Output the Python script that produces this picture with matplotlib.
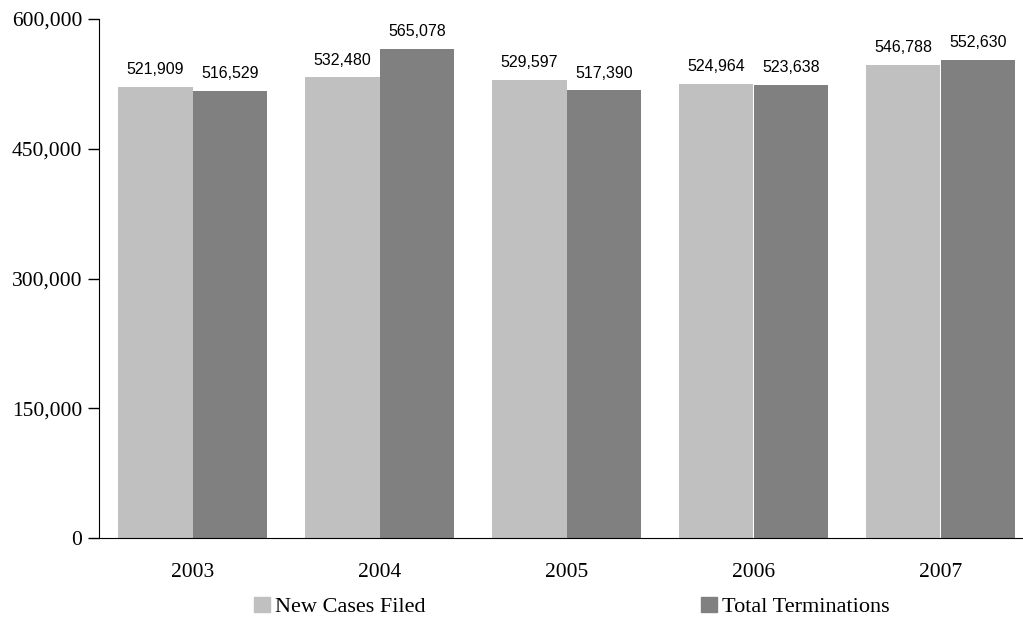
import matplotlib
matplotlib.use('Agg')
from matplotlib import pyplot as plt
from matplotlib.patches import Patch
from matplotlib.ticker import FuncFormatter
import numpy as np

years = ['2003', '2004', '2005', '2006', '2007']
new_cases = [521909, 532480, 529597, 524964, 546788]
terminations = [516529, 565078, 517390, 523638, 552630]
series_names = ['New Cases Filed', 'Total Terminations']
colors = ['#c0c0c0', '#808080']

fig = plt.figure(figsize=(10.23, 6.22), dpi=100)
ax = fig.add_axes([99 / 1023, 84 / 622, 935 / 1023, 519 / 622])

x = np.arange(len(years))
w = 0.4
b1 = ax.bar(x - w / 2, new_cases, w, color=colors[0], linewidth=0)
b2 = ax.bar(x + w / 2, terminations, w, color=colors[1], linewidth=0)

for bars in (b1, b2):
    for r in bars:
        h = r.get_height()
        ax.annotate(f'{h:,.0f}', (r.get_x() + r.get_width() / 2, h),
                    xytext=(0, 7), textcoords='offset points',
                    ha='center', va='bottom', fontsize=11.5,
                    family='Liberation Sans')

ax.set_xlim(-0.5, 4.5)
ax.set_ylim(0, 600000)
ax.set_yticks([0, 150000, 300000, 450000, 600000])
ax.yaxis.set_major_formatter(FuncFormatter(lambda v, p: f'{v:,.0f}'))
ax.set_xticks(x)
ax.set_xticklabels(years)

for s in ('top', 'right'):
    ax.spines[s].set_visible(False)
ax.spines['left'].set_color('black')
ax.spines['bottom'].set_color('black')

ax.tick_params(axis='y', direction='out', length=8, width=1, pad=4,
               labelsize=15.5)
ax.tick_params(axis='x', length=0, pad=18, labelsize=15.5)
for t in ax.get_xticklabels() + ax.get_yticklabels():
    t.set_family('Liberation Serif')

# two separate legend entries, placed like the original
for c, n, xpos in zip(colors, series_names, [254 / 1023, 701 / 1023]):
    fig.legend(handles=[Patch(color=c, label=n)], loc='center left',
               bbox_to_anchor=(xpos, 1 - 607 / 622), borderpad=0, borderaxespad=0,
               frameon=False, handlelength=0.7, handleheight=0.7, handletextpad=0.25,
               prop={'family': 'Liberation Serif', 'size': 16})

fig.savefig('out.png', dpi=100)
